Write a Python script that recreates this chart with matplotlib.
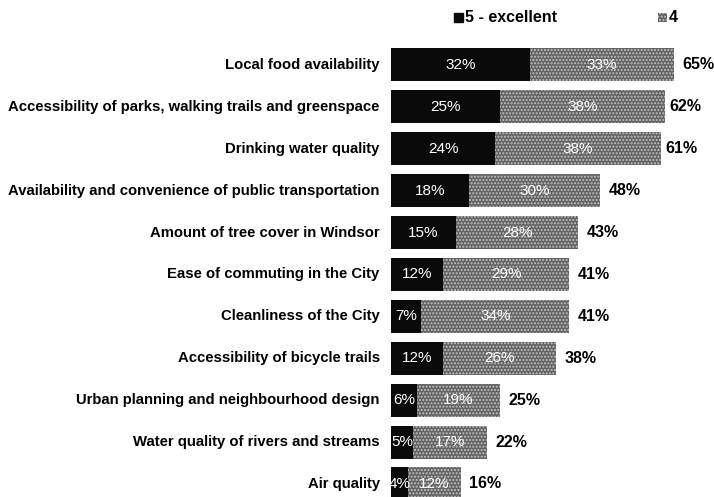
import matplotlib.pyplot as plt
from matplotlib.patches import Rectangle

plt.rcParams['font.family'] = ['Liberation Sans', 'DejaVu Sans']

categories = [
    "Local food availability",
    "Accessibility of parks, walking trails and greenspace",
    "Drinking water quality",
    "Availability and convenience of public transportation",
    "Amount of tree cover in Windsor",
    "Ease of commuting in the City",
    "Cleanliness of the City",
    "Accessibility of bicycle trails",
    "Urban planning and neighbourhood design",
    "Water quality of rivers and streams",
    "Air quality",
]
excellent = [32, 25, 24, 18, 15, 12, 7, 12, 6, 5, 4]
good = [33, 38, 38, 30, 28, 29, 34, 26, 19, 17, 12]
totals = [65, 62, 61, 48, 43, 41, 41, 38, 25, 22, 16]

black = '#0a0a0a'
gray = '#626262'
speckle = '#c4c4c4'

fig = plt.figure(figsize=(7.14, 4.97), dpi=100)
ax = fig.add_axes([0.5476, -0.016, 0.4524, 0.9276])

y = list(range(len(categories)))
ax.barh(y, excellent, height=0.79, color=black, linewidth=0)
ax.barh(y, good, left=excellent, height=0.79, color=gray,
        hatch='.....', edgecolor=speckle, linewidth=0)

for i in y:
    ax.text(excellent[i] / 2, i, f"{excellent[i]}%", color='white',
            ha='center', va='center', fontsize=11)
    ax.text(excellent[i] + good[i] / 2, i, f"{good[i]}%", color='white',
            ha='center', va='center', fontsize=11)
    ax.text(totals[i] + 2.0, i, f"{totals[i]}%", color='black',
            ha='left', va='center', fontsize=11.5, fontweight='bold')
    ax.text(-2.6, i, categories[i], color='black', ha='right', va='center',
            fontsize=10.7, fontweight='bold')

ax.set_xlim(0, 74.25)
ax.set_ylim(len(categories) - 0.5, -0.5)
ax.axis('off')

# legend
fig.patches.append(Rectangle((454 / 714, 1 - 22 / 497), 9 / 714, 9 / 497,
                             transform=fig.transFigure, color=black))
fig.text(465 / 714, 1 - 17 / 497, "5 - excellent", fontsize=11.5,
         fontweight='bold', va='center', ha='left')
fig.patches.append(Rectangle((658 / 714, 1 - 22 / 497), 9 / 714, 9 / 497,
                             transform=fig.transFigure, facecolor=gray,
                             hatch='.....', edgecolor=speckle, linewidth=0))
fig.text(669 / 714, 1 - 17 / 497, "4", fontsize=11.5,
         fontweight='bold', va='center', ha='left')

fig.savefig('out.png', dpi=100)
